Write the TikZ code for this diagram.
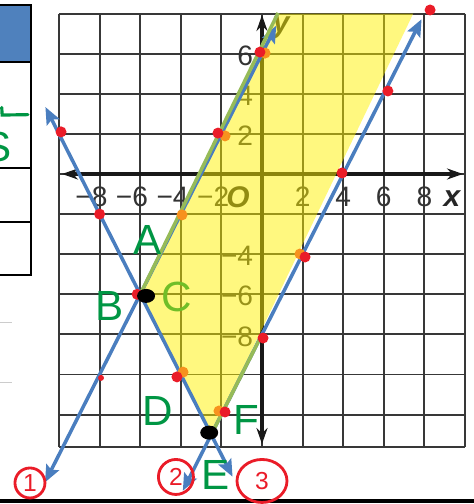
\documentclass[tikz,border=0pt]{standalone}
\usepackage{fontspec}
\setmainfont{Liberation Sans}
\usepackage{xcolor}
\usepackage{tikz}
\usetikzlibrary{arrows.meta, shapes.geometric}

\definecolor{lineblue}{RGB}{74,126,191}
\definecolor{edgegreen}{RGB}{150,187,88}
\definecolor{penred}{RGB}{234,28,40}
\definecolor{penorange}{RGB}{247,146,30}
\definecolor{pengreen}{RGB}{0,150,68}
\definecolor{penlime}{RGB}{112,190,40}
\definecolor{headblue}{RGB}{79,129,189}

\begin{document}
\begin{tikzpicture}[
  x=0.406cm, y=0.401cm,
  gridline/.style={black!78, line width=1.1pt},
  axisline/.style={black!90, line width=2.2pt,
                   {Stealth[length=3.2mm, width=2.2mm]}-{Stealth[length=3.2mm, width=2.2mm]}},
  num/.style={text=black!80, inner sep=0pt, font=\fontsize{16}{18}\selectfont},
  varlabel/.style={text=black!85, inner sep=0pt, font=\fontsize{17}{19}\selectfont\bfseries\itshape},
  bline/.style={lineblue, line width=2pt,
                {Stealth[length=3.4mm, width=2.8mm, inset=0.6mm]}-{Stealth[length=3.4mm, width=2.8mm, inset=0.6mm]}},
  gline/.style={edgegreen, line width=2pt},
  blob/.style={ellipse, fill=black, inner sep=0pt, minimum width=0.36cm, minimum height=0.28cm},
  hand/.style={text=pengreen, inner sep=0pt, font=\fontsize{24}{26}\selectfont},
  ring/.style={draw=penred, line width=1.6pt, text=penred, inner sep=0pt, font=\fontsize{14}{16}\selectfont}
]
\useasboundingbox (-12.906,-16.459) rectangle (10.443,8.678);
\clip (-12.906,-16.459) rectangle (10.443,8.678);

% table cut off on the left
\fill[headblue] (-13.5,8.43) rectangle (-11.38,5.59);
\draw[line width=1.4pt] (-13.5,8.43) -- (-11.38,8.43) -- (-11.38,-5.04) -- (-13.5,-5.04);
\foreach \ty in {5.59,0.30,-2.39}
  \draw[line width=1.4pt] (-13.5,\ty) -- (-11.38,\ty);
\draw[pengreen, line width=1.8pt, line cap=round] (-12.82,3.32) -- (-12.80,2.94) -- (-11.53,2.96);
\node[hand] (tabS) at (-13.05,1.35) {S};
\draw[black!20, line width=0.6pt] (-12.91,-7.43) -- (-12.32,-7.43);
\draw[black!20, line width=0.6pt] (-12.91,-10.42) -- (-12.32,-10.42);
\draw[black, line width=2.3pt] (-12.91,-16.31) -- (10.44,-16.31);

% grid and axes
\foreach \gx in {-10,-8,...,10}
  \draw[gridline] (\gx,8) -- (\gx,-13.6);
\foreach \gy in {8,6,...,-12}
  \draw[gridline] (-10,\gy) -- (10,\gy);
\draw[gridline] (-10,-13.6) -- (10,-13.6);
\draw[axisline] (-9.85,0) -- (9.9,0);
\draw[axisline] (0,-13.47) -- (0,7.93);

\foreach \gx in {8,6,4,2}
  \node[num] (xm\gx) at (-\gx,-1.15) {\llap{−}\gx};
\foreach \gx in {2,4,6,8}
  \node[num] (xp\gx) at (\gx,-1.15) {\gx};
\foreach \gy in {6,4,2}
  \node[num, anchor=east] (yp\gy) at (-0.42,\gy-0.1) {\gy};
\foreach \gy in {4,6,8}
  \node[num, anchor=east] (ym\gy) at (-0.42,-\gy-0.1) {−\gy};
\node[varlabel] (orig) at (-1.18,-1.15) {O};
\node[varlabel] (xlab) at (9.36,-1.25) {x};
\node[varlabel] (ylab) at (0.94,7.28) {y};

% points and line ends
\coordinate (B) at (-6,-6);
\coordinate (E) at (-2.5,-13);
\coordinate (l1a) at (-10.69,-15.38);
\coordinate (l1b) at (0.7,7.4);
\coordinate (l2a) at (-3.9,-15.8);
\coordinate (l2b) at (7.86,7.72);
\coordinate (l3a) at (-10.67,3.34);
\coordinate (l3b) at (-1.45,-15.1);
\coordinate (g1) at (0.79,8.03);
\coordinate (g2) at (-0.05,-8.1);

\fill[yellow, fill opacity=0.5] (B) -- (E) -- (7.45,8) -- (0.8,8) -- cycle;

\draw[bline] (l1a) -- (l1b);
\draw[bline] (l2a) -- (l2b);
\draw[bline] (l3a) -- (l3b);
\draw[gline] (B) -- (g1);
\draw[gline] (E) -- (g2);

\foreach \p in {(0.15,6.03),(-1.82,1.9),(-3.94,-2.04),(-3.89,-9.88),(-2.12,-11.82),(1.87,-3.99)}
  \fill[penorange] \p circle[radius=0.11cm];
\foreach \p in {(-9.9,2.1),(-8,-2),(-2.17,2.04),(-4.19,-10.12),(-1.82,-11.87),(2.12,-4.14),
                (0.05,-8.18),(3.94,0.05),(6.2,4.14),(8.28,8.18),(-0.1,6.08),(-6.15,-6)}
  \fill[penred] \p circle[radius=0.11cm];
\fill[penred] (-7.93,-10.17) circle[radius=0.06cm];

\node[blob] (ptB) at (-5.71,-6.08) {};
\node[blob] (ptE) at (-2.6,-12.9) {};

\node[hand] (labA) at (-5.62,-3.29) {A};
\node[hand] (labB) at (-7.49,-6.58) {B};
\node[hand, text=penlime] (labC) at (-4.19,-6.13) {C};
\node[hand] (labD) at (-5.12,-11.82) {D};
\node[hand] (labE) at (-2.27,-15.01) {E};
\node[hand] (labF) at (-0.79,-12.27) {F};

\node[ring, circle, minimum size=0.6cm] (c1) at (-11.43,-15.41) {1};
\node[ring, circle, minimum size=0.7cm] (c2) at (-4.24,-15.11) {2};
\node[ring, ellipse, minimum width=1.0cm, minimum height=0.86cm] (c3) at (0,-15.31) {3};
\end{tikzpicture}
\end{document}
